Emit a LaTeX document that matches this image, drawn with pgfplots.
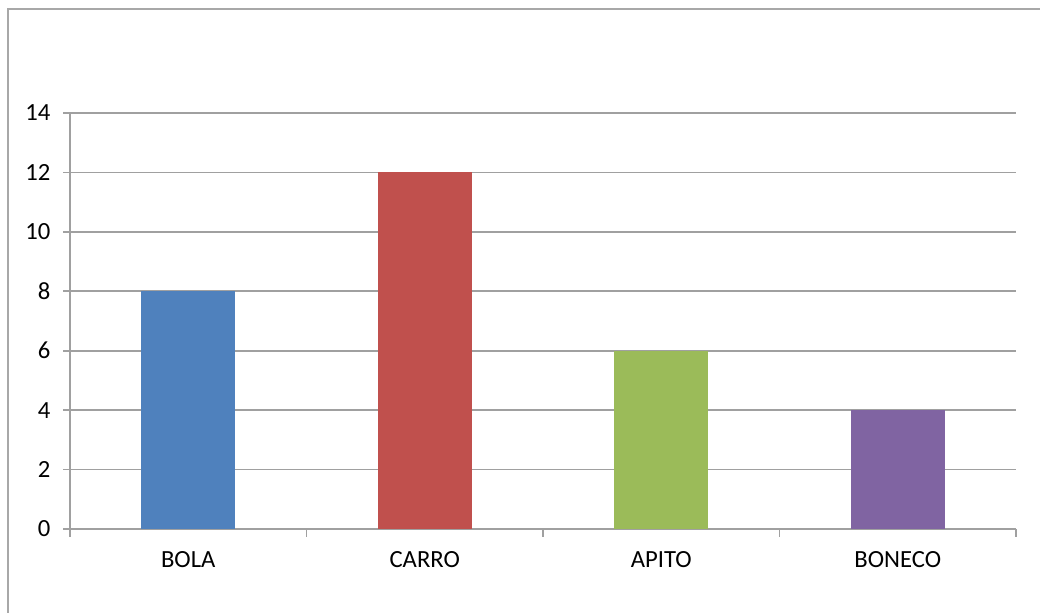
\documentclass[border=0pt]{standalone}
\usepackage{pgfplots}
\pgfplotsset{compat=1.18}
\usepackage{fontspec}
\setmainfont{Carlito}
\definecolor{gridgray}{HTML}{A0A0A0}
\definecolor{bordergray}{HTML}{A8A8A8}
\definecolor{cBlue}{HTML}{4F81BD}
\definecolor{cRed}{HTML}{C0504D}
\definecolor{cGreen}{HTML}{9BBB59}
\definecolor{cPurple}{HTML}{8064A2}
\begin{document}
\begin{tikzpicture}
\useasboundingbox (0,0) rectangle (780pt,459.75pt);
\draw[bordergray, line width=1.3pt] (6pt,-2pt) -- (6pt,453pt) -- (782pt,453pt);
\begin{axis}[
  at={(52.5pt,63pt)}, anchor=south west,
  scale only axis,
  width=709.5pt, height=312pt,
  ymin=0, ymax=14, ytick={0,2,...,14},
  xmin=0.5, xmax=4.5,
  xtick={1,2,3,4},
  xticklabels={BOLA,CARRO,APITO,BONECO},
  minor xtick={0.5,1.5,2.5,3.5,4.5},
  axis x line*=bottom, axis y line*=left,
  axis line style={gridgray, line width=1.3pt, -},
  ymajorgrids,
  major grid style={gridgray, line width=1.3pt},
  tick align=outside,
  major tick length=5.25pt,
  minor tick length=6pt,
  xtick style={draw=none},
  minor x tick style={draw=gridgray, line width=1.3pt},
  ytick style={gridgray, line width=1.3pt},
  tick label style={font=\fontsize{18.5}{22}\selectfont, text=black},
  /pgf/number format/assume math mode=true,
  yticklabel style={xshift=-6pt},
  xticklabel style={yshift=-8pt},
  ybar, bar width=70.5pt,
]
\addplot[fill=cBlue, draw=none, bar shift=0pt] coordinates {(1,8)};
\addplot[fill=cRed, draw=none, bar shift=0pt] coordinates {(2,12)};
\addplot[fill=cGreen, draw=none, bar shift=0pt] coordinates {(3,6)};
\addplot[fill=cPurple, draw=none, bar shift=0pt] coordinates {(4,4)};
\end{axis}
\end{tikzpicture}
\end{document}
